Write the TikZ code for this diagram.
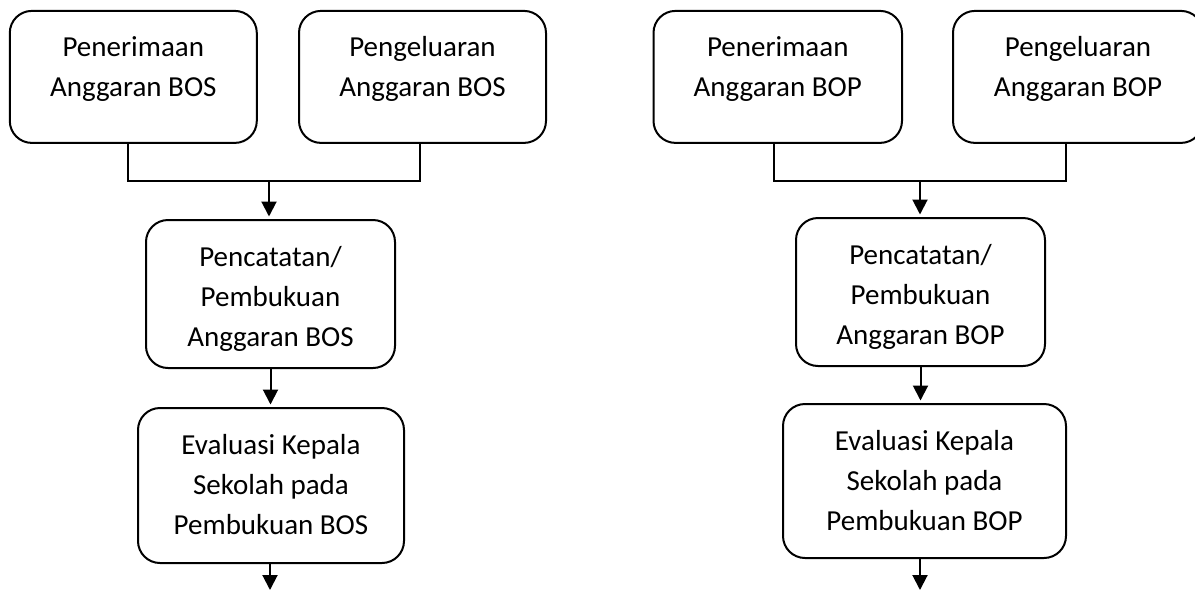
\documentclass[tikz,border=0pt]{standalone}
\usepackage{fontspec}
\setmainfont{Carlito}
\usetikzlibrary{arrows.meta,calc}
\newcommand{\boxtxt}[3]{\parbox[c][#2][t]{#1}{\centering\vspace*{18pt}\strut #3}}
\tikzset{
  bx/.style={draw=black, line width=2pt, rounded corners=22pt, inner sep=0pt,
    font=\fontsize{29}{40}\selectfont},
  conn/.style={draw=black, line width=2pt},
  arr/.style={conn, -{Triangle[width=15pt,length=15pt]}, shorten >=2.5pt},
}
\begin{document}
\begin{tikzpicture}[x=1pt,y=-1pt]
\useasboundingbox (0,0) rectangle (1195,590);
% ---- left (BOS) ----
\node[bx] (A) at (133.3,76.9) {\boxtxt{247pt}{132pt}{Penerimaan\\Anggaran BOS}};
\node[bx] (B) at (422.5,76.9) {\boxtxt{247pt}{132pt}{Pengeluaran\\Anggaran BOS}};
\node[bx] (C) at (270.5,294) {\boxtxt{249pt}{148pt}{Pencatatan/\\Pembukuan\\Anggaran BOS}};
\node[bx] (D) at (271,485.5) {\boxtxt{266pt}{155pt}{Evaluasi Kepala\\Sekolah pada\\Pembukuan BOS}};
\coordinate (J1) at (269,180.7);
\coordinate (endL) at (270,590);
\draw[conn] ([xshift=-5.3pt]A.south) |- (J1) -| ([xshift=-2.5pt]B.south);
\draw[arr] (J1) -- (J1 |- C.north);
\draw[arr] (C.south) -- (C.south |- D.north);
\draw[conn, -{Triangle[width=15pt,length=15pt]}] (endL |- D.south) -- (endL);
% ---- right (BOP) ----
\node[bx] (E) at (777.75,76.9) {\boxtxt{248.5pt}{132pt}{Penerimaan\\Anggaran BOP}};
\node[bx] (F) at (1078,76.9) {\boxtxt{250pt}{132pt}{Pengeluaran\\Anggaran BOP}};
\node[bx] (G) at (920.5,292) {\boxtxt{249pt}{148pt}{Pencatatan/\\Pembukuan\\Anggaran BOP}};
\node[bx] (H) at (924.5,481) {\boxtxt{283pt}{154pt}{Evaluasi Kepala\\Sekolah pada\\Pembukuan BOP}};
\coordinate (J2) at (920,180.7);
\coordinate (endR) at (920,590);
\draw[conn] ([xshift=-3.75pt]E.south) |- (J2) -| ([xshift=-12pt]F.south);
\draw[arr] (J2) -- (J2 |- G.north);
\draw[arr] (G.south) -- (G.south |- H.north);
\draw[conn, -{Triangle[width=15pt,length=15pt]}] (endR |- H.south) -- (endR);
\end{tikzpicture}
\end{document}
